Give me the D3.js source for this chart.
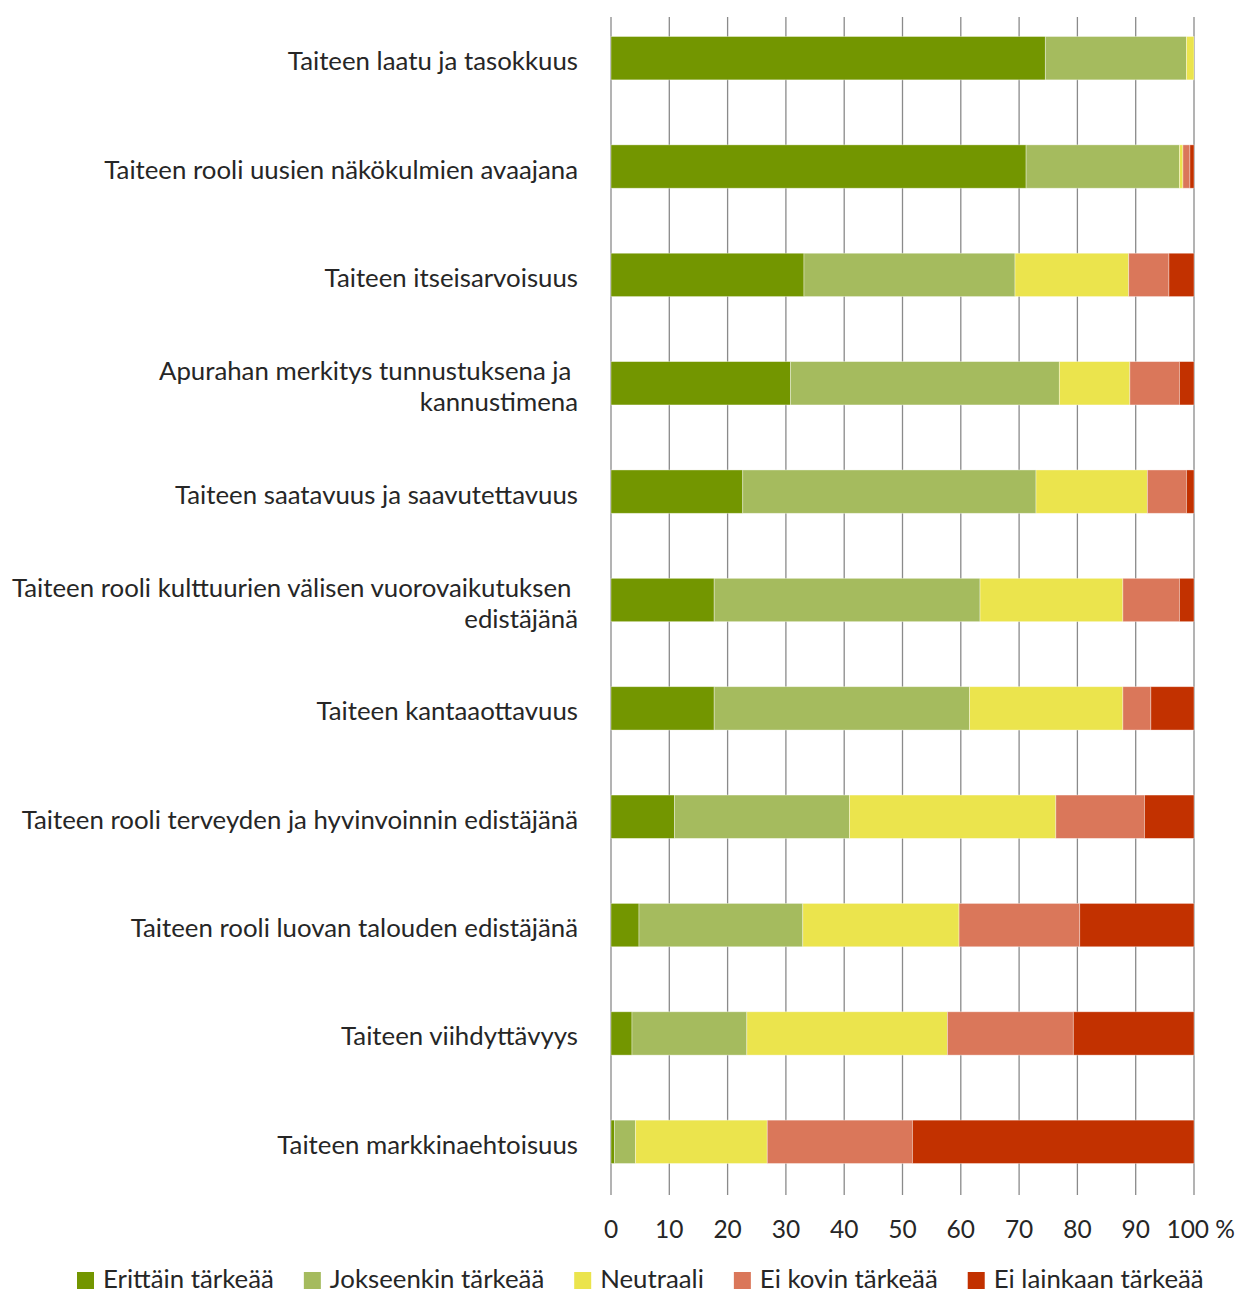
<!DOCTYPE html>
<html><head><meta charset="utf-8">
<script src="https://cdn.jsdelivr.net/npm/d3@7"></script>
<style>
html,body{margin:0;padding:0;background:#fff;}
svg text{font-family:Lato, "Source Sans Pro", sans-serif;fill:#262626;}
</style></head>
<body>
<svg id="chart" width="1237" height="1293"></svg>
<script>
const categories = [
  ["Taiteen laatu ja tasokkuus"],
  ["Taiteen rooli uusien näkökulmien avaajana"],
  ["Taiteen itseisarvoisuus"],
  ["Apurahan merkitys tunnustuksena ja ", "kannustimena"],
  ["Taiteen saatavuus ja saavutettavuus"],
  ["Taiteen rooli kulttuurien välisen vuorovaikutuksen ", "edistäjänä"],
  ["Taiteen kantaaottavuus"],
  ["Taiteen rooli terveyden ja hyvinvoinnin edistäjänä"],
  ["Taiteen rooli luovan talouden edistäjänä"],
  ["Taiteen viihdyttävyys"],
  ["Taiteen markkinaehtoisuus"]
];
const seriesNames = ["Erittäin tärkeää", "Jokseenkin tärkeää", "Neutraali", "Ei kovin tärkeää", "Ei lainkaan tärkeää"];
const seriesColors = ["#739600", "#a5bb5e", "#ebe44d", "#da775a", "#c23100"];
const erittain   = [74.5, 71.2, 33.1, 30.8, 22.6, 17.7, 17.7, 10.9, 4.8, 3.6, 0.6];
const jokseenkin = [24.2, 26.3, 36.2, 46.1, 50.3, 45.6, 43.8, 30.0, 28.1, 19.7, 3.6];
const neutraali  = [1.3, 0.6, 19.5, 12.1, 19.1, 24.5, 26.3, 35.4, 26.8, 34.4, 22.6];
const eiKovin    = [0.0, 1.2, 6.9, 8.5, 6.7, 9.7, 4.8, 15.2, 20.7, 21.6, 24.9];
const eiLainkaan = [0.0, 0.7, 4.3, 2.5, 1.3, 2.5, 7.4, 8.5, 19.6, 20.7, 48.3];
const tickValues = [0, 10, 20, 30, 40, 50, 60, 70, 80, 90, 100];
const tickLabels = ["0", "10", "20", "30", "40", "50", "60", "70", "80", "90", "100 %"];

const seriesValues = [erittain, jokseenkin, neutraali, eiKovin, eiLainkaan];
const rows = categories.map((c, i) => {
  const o = {key: i};
  seriesNames.forEach((s, j) => o[s] = seriesValues[j][i]);
  return o;
});
const stacked = d3.stack().keys(seriesNames)(rows);

const FS = 25.8;
const svg = d3.select("#chart");
const x = d3.scaleLinear().domain([0, 100]).range([611, 1194]);
const y = d3.scaleBand().domain(d3.range(categories.length)).range([4, 1196]).paddingInner(0.6).paddingOuter(0.3);
const gridTop = 17, gridBottom = 1195;

// gridlines
svg.append("g").selectAll("line").data(tickValues).join("line")
  .attr("x1", d => x(d)).attr("x2", d => x(d))
  .attr("y1", gridTop).attr("y2", gridBottom)
  .attr("stroke", "#8a8a8a").attr("stroke-width", 1.3);

// bars
svg.append("g").selectAll("g").data(stacked).join("g")
  .attr("fill", (d, i) => seriesColors[i])
  .selectAll("rect").data(d => d).join("rect")
  .attr("x", d => x(d[0]))
  .attr("width", d => Math.max(0, x(d[1]) - x(d[0])))
  .attr("y", d => y(d.data.key))
  .attr("height", y.bandwidth())
  .attr("stroke", "rgba(255,255,255,0.45)").attr("stroke-width", 0.8);

// category labels
const lab = svg.append("g").selectAll("text").data(categories).join("text")
  .attr("x", 578).attr("text-anchor", "end")
  .attr("font-size", FS)
  .attr("y", (d, i) => y(i) + y.bandwidth() / 2 + 5 - (d.length - 1) * 15.5)
  .attr("dominant-baseline", "middle");
lab.selectAll("tspan").data(d => d).join("tspan")
  .attr("x", 578).attr("dy", (d, i) => i === 0 ? 0 : 31)
  .attr("xml:space", "preserve")
  .style("white-space", "pre")
  .text(d => d);

// x tick labels
svg.append("g").selectAll("text").data(tickValues).join("text")
  .attr("x", d => d === 100 ? x(d) + 41 : x(d)).attr("y", 1232)
  .attr("text-anchor", d => d === 100 ? "end" : "middle").attr("dominant-baseline", "middle")
  .attr("font-size", 24.5)
  .text((d, i) => tickLabels[i]);

// legend
const legend = svg.append("g");
let lx = 77;
seriesNames.forEach((s, i) => {
  legend.append("rect").attr("x", lx).attr("y", 1272).attr("width", 17).attr("height", 17).attr("fill", seriesColors[i]);
  const t = legend.append("text").attr("x", lx + 26).attr("y", 1281)
    .attr("dominant-baseline", "middle").attr("font-size", FS).text(s);
  lx += 26 + t.node().getComputedTextLength() + 30;
});
</script>
</body></html>
